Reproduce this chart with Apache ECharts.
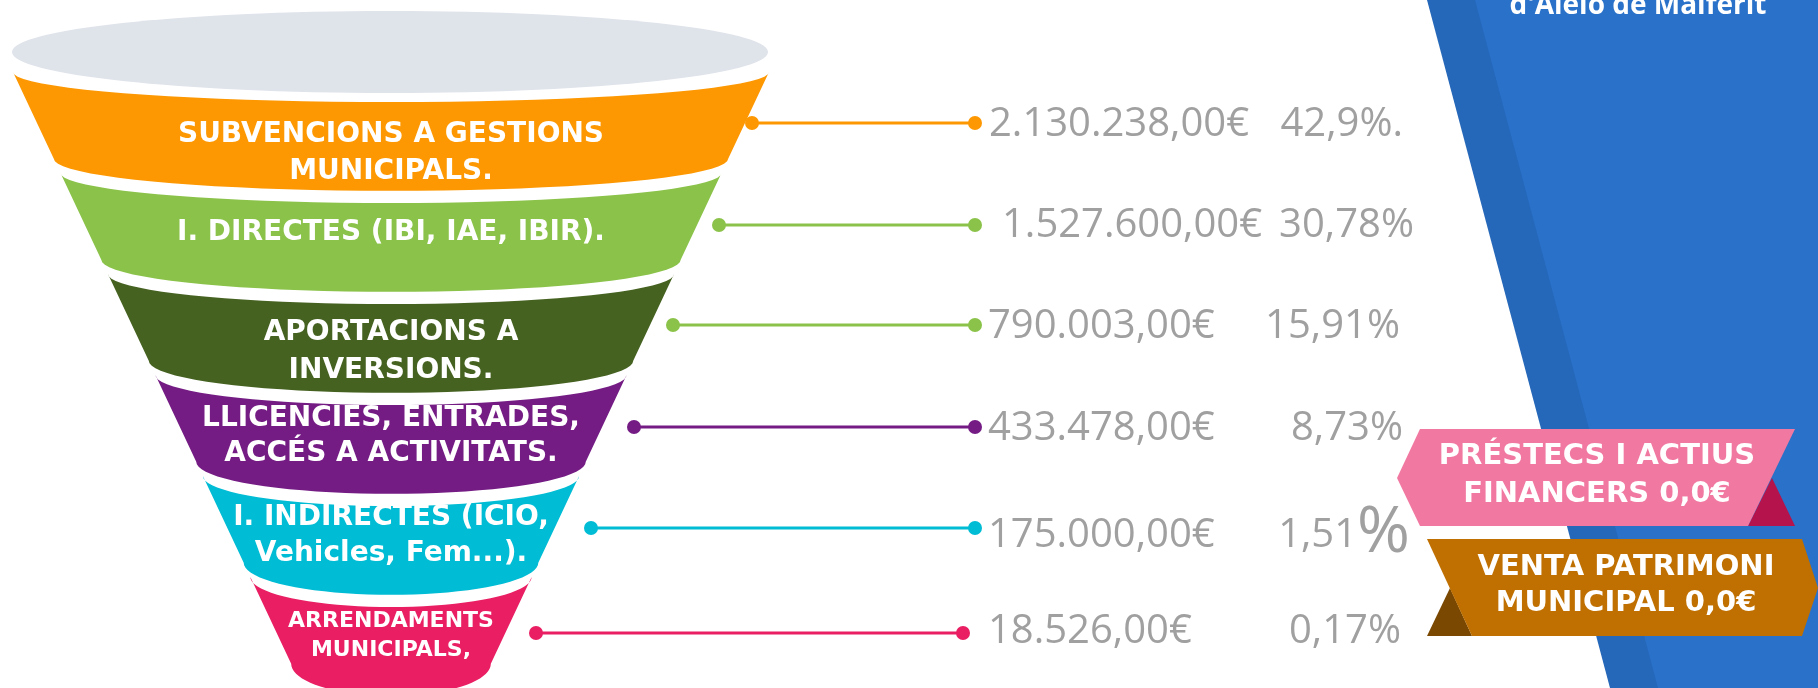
<!DOCTYPE html>
<html>
<head>
<meta charset="utf-8">
<script src="https://cdn.jsdelivr.net/npm/echarts@6/dist/echarts.min.js"></script>
<style>
  html, body { margin: 0; padding: 0; background: #fff; }
  #main { width: 1818px; height: 688px; }
</style>
</head>
<body>
<div id="main"></div>
<script>
// dades del gràfic
var categories = [
    'SUBVENCIONS A GESTIONS\nMUNICIPALS.',
    'I. DIRECTES (IBI, IAE, IBIR).',
    'APORTACIONS A\nINVERSIONS.',
    'LLICENCIES, ENTRADES,\nACCÉS A ACTIVITATS.',
    'I. INDIRECTES (ICIO,\nVehicles, Fem...).',
    'ARRENDAMENTS\nMUNICIPALS,'
];
var amounts = [2130238, 1527600, 790003, 433478, 175000, 18526];
var percents = ['42,9%.', '30,78%', '15,91%', '8,73%', '1,51%', '0,17%'];
var extraLabels = ['PRÉSTECS I ACTIUS\nFINANCERS', 'VENTA PATRIMONI\nMUNICIPAL'];
var extraAmounts = [0, 0];

// colors i posicions (maquetació)
var segColors = ['#fd9802', '#8bc34a', '#466221', '#741c84', '#00bcd4', '#e91e63'];
var lineColors = ['#fd9802', '#8bc34a', '#8bc34a', '#741c84', '#00bcd4', '#e91e63'];
var labelDy = [81, 60, 78, 61, 60, 59];
var labelSize = [28, 28, 28, 28, 28, 22];
var labelLH = [37, 37, 38, 35, 36, 29];
var lineDy = [51, 52, 51, 52, 52, 56];
var dotLeftX = [752, 719, 673, 634, 591, 536];
var dotRightX = [975, 975, 975, 975, 975, 963];
var valueX = [989, 1002, 988, 988, 988, 988];
var valueDy = [53, 53, 53, 54, 60, 55];
var pctRightX = [1403, 1414, 1400, 1403, 1410, 1401];

var FUNNEL_CX = 391, HW0 = 378, TAPER = 0.47;
var BODY = 0.86, TOP_SAG = 30, BOT_SAG = 32;
var LABEL_FONT = '"DejaVu Sans", sans-serif';

function fmtEuro(n) {
    var p = n.toFixed(2).split('.');
    return p[0].replace(/\B(?=(\d{3})+(?!\d))/g, '.') + ',' + p[1] + '€';
}
function fmtEuroShort(n) {
    return n.toFixed(1).replace('.', ',') + '€';
}

var chart = echarts.init(document.getElementById('main'));

var seriesData = categories.map(function (c, i) { return [amounts[i], i]; });

function renderFunnel(params, api) {
    var i = api.value(1);
    var c = api.coord([0, i]);
    var band = api.size([0, 1])[1];
    var y0 = api.coord([0, 0])[1] - band / 2;
    var top = c[1] - band / 2;
    var bot = top + band * BODY;
    var hwT = HW0 - TAPER * (top - y0);
    var hwB = HW0 - TAPER * (bot - y0);
    var pts = [], k, th, n = 40;
    for (k = 0; k <= n; k++) {
        th = Math.PI - Math.PI * k / n;
        pts.push([FUNNEL_CX + hwT * Math.cos(th), top + TOP_SAG * Math.sin(th)]);
    }
    for (k = 0; k <= n; k++) {
        th = Math.PI * k / n;
        pts.push([FUNNEL_CX + hwB * Math.cos(th), bot + BOT_SAG * Math.sin(th)]);
    }
    return {
        type: 'group',
        children: [{
            type: 'polygon',
            shape: { points: pts },
            style: { fill: segColors[i] }
        }, {
            type: 'text',
            style: {
                text: categories[i],
                x: FUNNEL_CX, y: top + labelDy[i],
                align: 'center', verticalAlign: 'middle',
                fill: '#fff', fontFamily: LABEL_FONT, fontWeight: 'bold',
                fontSize: labelSize[i], lineHeight: labelLH[i]
            }
        }]
    };
}

function renderValues(params, api) {
    var i = api.value(1);
    var c = api.coord([0, i]);
    var band = api.size([0, 1])[1];
    var top = c[1] - band / 2;
    var ly = top + lineDy[i];
    var vy = top + valueDy[i];
    var pct = percents[i];
    var big = i === 4;
    return {
        type: 'group',
        children: [{
            type: 'line',
            shape: { x1: dotLeftX[i], y1: ly, x2: dotRightX[i], y2: ly },
            style: { stroke: lineColors[i], lineWidth: 3 }
        }, {
            type: 'circle', shape: { cx: dotLeftX[i], cy: ly, r: 7 },
            style: { fill: lineColors[i] }
        }, {
            type: 'circle', shape: { cx: dotRightX[i], cy: ly, r: 7 },
            style: { fill: lineColors[i] }
        }, {
            type: 'text',
            style: {
                text: fmtEuro(api.value(0)),
                x: valueX[i], y: vy, align: 'left', verticalAlign: 'middle',
                fill: '#a0a0a0', fontFamily: 'Open Sans', fontSize: 40
            }
        }, {
            type: 'text',
            style: {
                text: big ? pct.replace('%', '') + '{b|%}' : pct,
                rich: { b: { fontSize: 64, fill: '#a0a0a0', fontFamily: 'Open Sans', padding: [0, 0, 4, 0] } },
                x: pctRightX[i], y: vy, align: 'right', verticalAlign: 'middle',
                fill: '#a0a0a0', fontFamily: 'Open Sans', fontSize: 40
            }
        }]
    };
}

var option = {
    backgroundColor: '#ffffff',
    animation: false,
    grid: { left: 0, right: 0, top: 72, bottom: 10 },
    xAxis: { type: 'value', min: 0, max: 1818, show: false },
    yAxis: { type: 'category', data: categories, inverse: true, show: false },
    graphic: [
        // fons blau
        { type: 'polygon', z: -10, shape: { points: [[1427, 0], [1818, 0], [1818, 688], [1610, 688]] }, style: { fill: '#2567b9' } },
        { type: 'polygon', z: -9, shape: { points: [[1475, 0], [1818, 0], [1818, 688], [1658, 688]] }, style: { fill: '#2971c9' } },
        {
            type: 'text', z: -8,
            style: { text: "d'Aielo de Malferit", x: 1638, y: 20, align: 'center', verticalAlign: 'bottom',
                fill: '#fff', fontFamily: 'Open Sans', fontWeight: 700, fontSize: 28 }
        },
        // el·lipse superior
        { type: 'ellipse', shape: { cx: 390, cy: 52, rx: 378, ry: 41 }, style: { fill: '#dfe3ea' } },
        // cinta rosa
        { type: 'polygon', z: 20, shape: { points: [[1772, 478], [1795, 526], [1748, 526]] }, style: { fill: '#b5134b' } },
        { type: 'polygon', z: 21, shape: { points: [[1420, 429], [1795, 429], [1748, 526], [1420, 526], [1397, 478]] }, style: { fill: '#f178a1' } },
        {
            type: 'text', z: 22,
            style: { text: extraLabels[0] + ' ' + fmtEuroShort(extraAmounts[0]),
                x: 1597, y: 475, align: 'center', verticalAlign: 'middle',
                fill: '#fff', fontFamily: LABEL_FONT, fontWeight: 'bold', fontSize: 29, lineHeight: 38 }
        },
        // cinta marró
        { type: 'polygon', z: 20, shape: { points: [[1427, 636], [1450, 588], [1472, 636]] }, style: { fill: '#7a4800' } },
        { type: 'polygon', z: 21, shape: { points: [[1427, 539], [1802, 539], [1818, 588], [1802, 636], [1472, 636]] }, style: { fill: '#bf7000' } },
        {
            type: 'text', z: 22,
            style: { text: extraLabels[1] + ' ' + fmtEuroShort(extraAmounts[1]),
                x: 1626, y: 585, align: 'center', verticalAlign: 'middle',
                fill: '#fff', fontFamily: LABEL_FONT, fontWeight: 'bold', fontSize: 29, lineHeight: 36 }
        }
    ],
    series: [{
        type: 'custom',
        renderItem: renderFunnel,
        data: seriesData,
        z: 2
    }, {
        type: 'custom',
        renderItem: renderValues,
        data: seriesData,
        z: 3
    }]
};
chart.setOption(option);
</script>
</body>
</html>
